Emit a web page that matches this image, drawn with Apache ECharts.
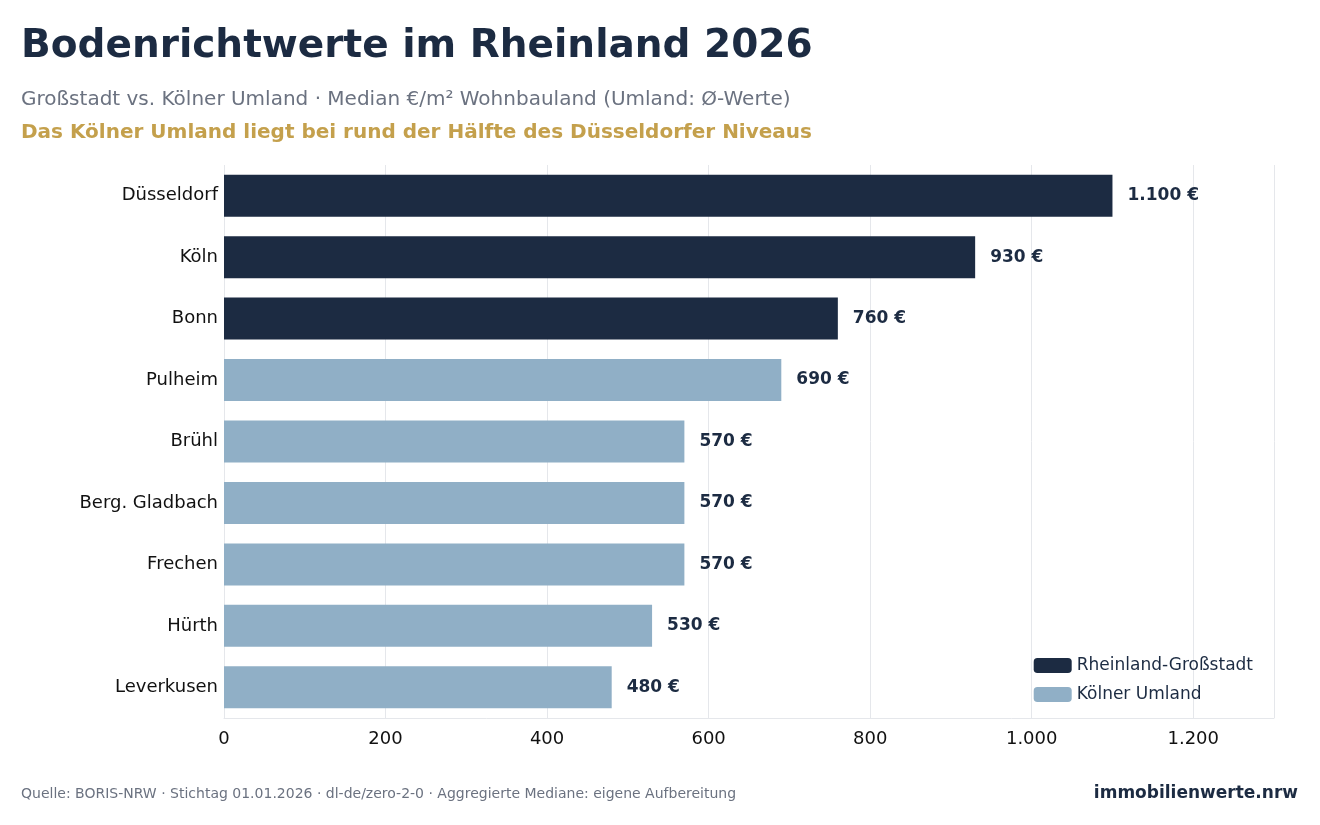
<!DOCTYPE html>
<html><head><meta charset="utf-8">
<script src="https://cdn.jsdelivr.net/npm/echarts@6/dist/echarts.min.js"></script>
<style>html,body{margin:0;padding:0;background:#fff}#c{width:1320px;height:825px}</style>
</head><body><div id="c"></div>
<script>
const categories = ["Düsseldorf","Köln","Bonn","Pulheim","Brühl","Berg. Gladbach","Frechen","Hürth","Leverkusen"];
const cityValues = [1100,930,760,null,null,null,null,null,null];
const umlandValues = [null,null,null,690,570,570,570,530,480];
const xTicks = [0,200,400,600,800,1000,1200];
const fmt = v => v.toLocaleString('de-DE');
const font = '"DejaVu Sans", sans-serif';
const label = {show:true,position:'right',distance:15,color:'#1c2b42',fontWeight:'bold',fontSize:17,fontFamily:font,
  formatter:p=>fmt(p.value)+' €'};
const chart = echarts.init(document.getElementById('c'));
chart.setOption({
  animation:false,
  textStyle:{fontFamily:font},
  title:[
    {text:'Bodenrichtwerte im Rheinland 2026',left:16,top:22,textStyle:{fontSize:39,fontWeight:'bold',color:'#1c2b42',fontFamily:font}},
    {text:'Großstadt vs. Kölner Umland · Median €/m² Wohnbauland (Umland: Ø-Werte)',left:16,top:85,textStyle:{fontSize:20,fontWeight:'normal',color:'#6b7280',fontFamily:font}},
    {text:'Das Kölner Umland liegt bei rund der Hälfte des Düsseldorfer Niveaus',left:16,top:118,textStyle:{fontSize:20,fontWeight:'bold',color:'#c4a04c',fontFamily:font}},
    {text:'Quelle: BORIS-NRW · Stichtag 01.01.2026 · dl-de/zero-2-0 · Aggregierte Mediane: eigene Aufbereitung',left:16,top:782,textStyle:{fontSize:14,fontWeight:'normal',color:'#6b7280',fontFamily:font}},
    {text:'immobilienwerte.nrw',right:17,top:780,textStyle:{fontSize:17,fontWeight:'bold',color:'#1c2b42',fontFamily:font}}
  ],
  legend:{orient:'vertical',right:62,top:652,itemWidth:38,itemHeight:15,itemGap:12,
    textStyle:{fontSize:17,color:'#1c2b42',fontFamily:font},data:['Rheinland-Großstadt','Kölner Umland']},
  grid:{left:224,right:46,top:165,bottom:107,containLabel:false},
  xAxis:{type:'value',min:0,max:1300,interval:200,
    axisLabel:{fontSize:18,color:'#111',margin:12,fontFamily:font,formatter:v=>xTicks.includes(v)?fmt(v):''},
    splitLine:{lineStyle:{color:'#e5e7eb'}},axisLine:{show:true,lineStyle:{color:'#e5e7eb'}},axisTick:{show:false}},
  yAxis:{type:'category',inverse:true,data:categories,
    axisLabel:{fontSize:18,color:'#111',margin:6,fontFamily:font},axisLine:{show:false},axisTick:{show:false}},
  series:[
    {name:'Rheinland-Großstadt',type:'bar',stack:'a',data:cityValues,barWidth:42,itemStyle:{color:'#1c2b42'},label},
    {name:'Kölner Umland',type:'bar',stack:'a',data:umlandValues,barWidth:42,itemStyle:{color:'#90afc6'},label}
  ]
});
</script></body></html>
